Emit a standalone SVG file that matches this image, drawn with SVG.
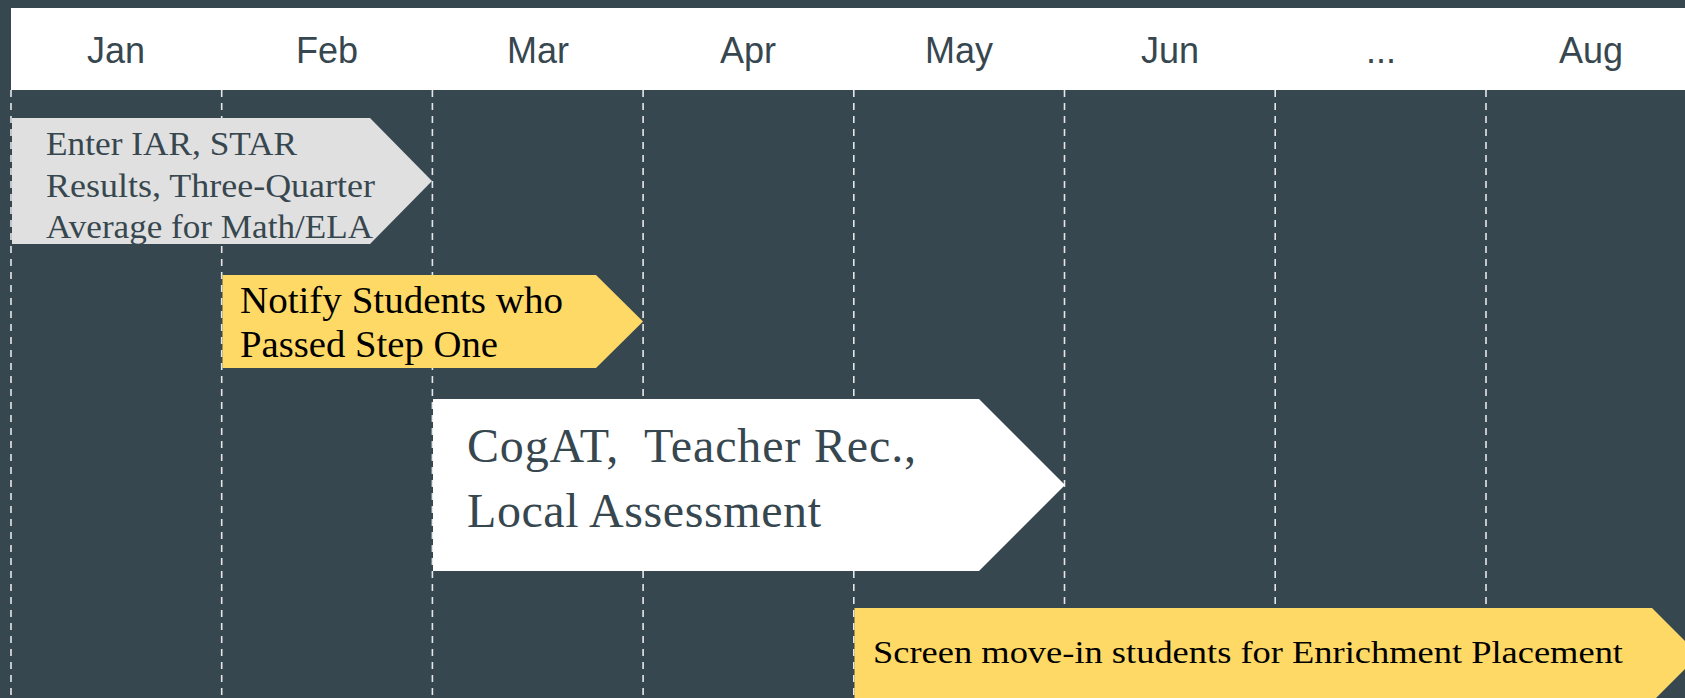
<svg xmlns="http://www.w3.org/2000/svg" width="1685" height="698" viewBox="0 0 1685 698">
  <style>
    .month { font-family: "Liberation Sans", Arial, sans-serif; font-size: 36px; fill: #37474f; text-anchor: middle; }
    .grid line { stroke: #e6e6e6; stroke-width: 1.6; stroke-dasharray: 7 6; }
    .serif { font-family: "Liberation Serif", "Times New Roman", serif; }
    .dark { fill: #37474f; }
    .black { fill: #000000; }
  </style>
  <rect x="0" y="0" width="1685" height="698" fill="#37474f"/>
  <g id="header">
    <rect x="11" y="8" width="1674" height="82" fill="#ffffff"/>
    <text class="month" x="116" y="63">Jan</text>
    <text class="month" x="327" y="63">Feb</text>
    <text class="month" x="538" y="63">Mar</text>
    <text class="month" x="748" y="63">Apr</text>
    <text class="month" x="959" y="63">May</text>
    <text class="month" x="1170" y="63">Jun</text>
    <text class="month" x="1381" y="63">...</text>
    <text class="month" x="1591" y="63">Aug</text>
  </g>
  <g id="gridlines" class="grid">
    <line x1="11" y1="90" x2="11" y2="698"/>
    <line x1="221.7" y1="90" x2="221.7" y2="698"/>
    <line x1="432.4" y1="90" x2="432.4" y2="698"/>
    <line x1="643.1" y1="90" x2="643.1" y2="698"/>
    <line x1="853.8" y1="90" x2="853.8" y2="698"/>
    <line x1="1064.5" y1="90" x2="1064.5" y2="698"/>
    <line x1="1275.2" y1="90" x2="1275.2" y2="698"/>
    <line x1="1486" y1="90" x2="1486" y2="698"/>
  </g>
  <g id="enter-results">
    <polygon points="12,118 370,118 432,181 370,244 12,244" fill="#e0e0e0"/>
    <text class="serif dark" font-size="33" x="46" y="155" textLength="251" lengthAdjust="spacingAndGlyphs">Enter IAR, STAR</text>
    <text class="serif dark" font-size="33" x="46" y="197" textLength="329" lengthAdjust="spacingAndGlyphs">Results, Three-Quarter</text>
    <text class="serif dark" font-size="33" x="46" y="238" textLength="327" lengthAdjust="spacingAndGlyphs">Average for Math/ELA</text>
  </g>
  <g id="notify-students">
    <polygon points="222.5,275 596,275 643,321.5 596,368 222.5,368" fill="#ffd966"/>
    <text class="serif black" font-size="37" x="240" y="313" textLength="323" lengthAdjust="spacingAndGlyphs">Notify Students who</text>
    <text class="serif black" font-size="37" x="240" y="357" textLength="258" lengthAdjust="spacingAndGlyphs">Passed Step One</text>
  </g>
  <g id="cogat">
    <polygon points="433,399 979,399 1065,485 979,571 433,571" fill="#ffffff"/>
    <text class="serif dark" font-size="48" x="467" y="462" textLength="449" xml:space="preserve">CogAT,  Teacher Rec.,</text>
    <text class="serif dark" font-size="48" x="467" y="527" textLength="354">Local Assessment</text>
  </g>
  <g id="screen-move-in">
    <polygon points="854.5,608 1652,608 1699,655 1652,702 854.5,702" fill="#ffd966"/>
    <text class="serif black" font-size="32" x="873" y="663" textLength="750" lengthAdjust="spacingAndGlyphs">Screen move-in students for Enrichment Placement</text>
  </g>
</svg>
